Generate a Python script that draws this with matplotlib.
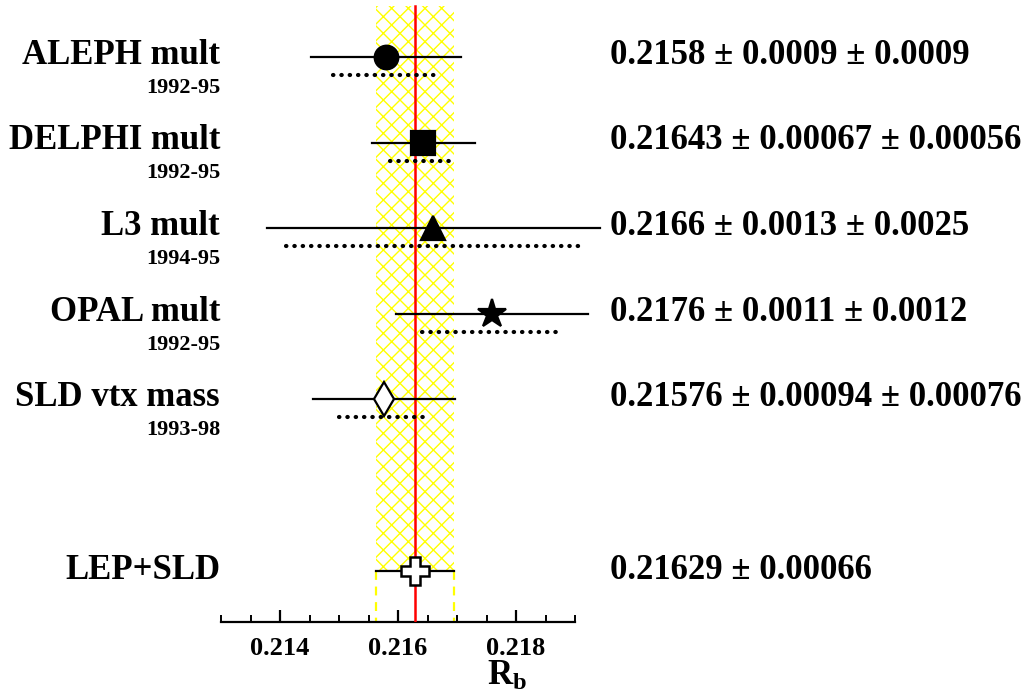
import matplotlib
matplotlib.use("Agg")
import matplotlib.pyplot as plt
import matplotlib.transforms as mtransforms
from matplotlib.ticker import MultipleLocator, FormatStrFormatter

plt.rcParams['font.family'] = ['Liberation Serif', 'DejaVu Serif']
plt.rcParams['font.weight'] = 'bold'
plt.rcParams['mathtext.fontset'] = 'custom'
plt.rcParams['mathtext.rm'] = 'Liberation Serif:bold'
plt.rcParams['mathtext.bf'] = 'Liberation Serif:bold'
plt.rcParams['mathtext.it'] = 'Liberation Serif:bold'
plt.rcParams['hatch.linewidth'] = 1.0

# measurements
names = ["ALEPH mult", "DELPHI mult", "L3 mult", "OPAL mult", "SLD vtx mass"]
years = ["1992-95", "1992-95", "1994-95", "1992-95", "1993-98"]
rb = [0.2158, 0.21643, 0.2166, 0.2176, 0.21576]
stat = [0.0009, 0.00067, 0.0013, 0.0011, 0.00094]
syst = [0.0009, 0.00056, 0.0025, 0.0012, 0.00076]
value_text = ["0.2158 ± 0.0009 ± 0.0009",
              "0.21643 ± 0.00067 ± 0.00056",
              "0.2166 ± 0.0013 ± 0.0025",
              "0.2176 ± 0.0011 ± 0.0012",
              "0.21576 ± 0.00094 ± 0.00076"]
markers = ["o", "s", "^", "*", "d"]
filled = [True, True, True, True, False]
msizes = [17, 17, 17, 21, 17]

# combined result
avg_name = "LEP+SLD"
avg_rb = 0.21629
avg_err = 0.00066
avg_text = "0.21629 ± 0.00066"

rows = list(range(len(names)))
avg_row = 6

fig = plt.figure(figsize=(10.29, 7.0), dpi=100)
ax = fig.add_axes([221 / 1029, 78 / 700, 354 / 1029, 622 / 700])
ax.set_xlim(0.213, 0.219)
ax.set_ylim(6.6, -0.665)

# yellow band and red average line
ax.fill_betweenx([-0.6, avg_row], avg_rb - avg_err, avg_rb + avg_err,
                 facecolor='none', edgecolor='#ffff00', hatch='xx', linewidth=0)
for xe in (avg_rb - avg_err, avg_rb + avg_err):
    ax.plot([xe, xe], [avg_row, 6.6], color='#ffff00', lw=1.6, ls=(0, (4, 3)))
ax.plot([avg_rb, avg_rb], [-0.6, 6.6], color='red', lw=1.8, zorder=3)

for i, r in enumerate(rows):
    tot = (stat[i] ** 2 + syst[i] ** 2) ** 0.5
    ax.plot([rb[i] - tot, rb[i] + tot], [r, r], color='black', lw=1.6, zorder=4,
            clip_on=False)
    ax.plot([rb[i] - syst[i], rb[i] + syst[i]], [r + 0.21, r + 0.21], color='black',
            lw=3.0, ls=(0, (0.1, 1.9)), dash_capstyle='round', zorder=4, clip_on=False)
    ax.plot(rb[i], r, marker=markers[i], ms=msizes[i], color='black',
            mfc='black' if filled[i] else 'white', mew=1.6, zorder=5)

ax.plot([avg_rb - avg_err, avg_rb + avg_err], [avg_row, avg_row], color='black', lw=1.6, zorder=4)
ax.plot(avg_rb, avg_row, marker='P', ms=20, color='black', mfc='white', mew=1.8, zorder=5)

# labels
tr = mtransforms.blended_transform_factory(fig.transFigure, ax.transData)
for i, r in enumerate(rows):
    ax.text(220 / 1029, r - 0.02, names[i], transform=tr, ha='right', va='center',
            fontsize=25, fontweight='bold')
    ax.text(220 / 1029, r + 0.36, years[i], transform=tr, ha='right', va='center',
            fontsize=16, fontweight='bold')
    ax.text(610 / 1029, r - 0.02, value_text[i], transform=tr, ha='left', va='center',
            fontsize=25, fontweight='bold')
ax.text(220 / 1029, avg_row, avg_name, transform=tr, ha='right', va='center',
        fontsize=25, fontweight='bold')
ax.text(610 / 1029, avg_row, avg_text, transform=tr, ha='left', va='center',
        fontsize=25, fontweight='bold')

# axis
for s in ('top', 'left', 'right'):
    ax.spines[s].set_visible(False)
ax.spines['bottom'].set_linewidth(1.6)
ax.set_yticks([])
ax.xaxis.set_major_locator(MultipleLocator(0.002))
ax.xaxis.set_minor_locator(MultipleLocator(0.0005))
ax.tick_params(axis='x', which='major', direction='in', length=9, width=1.6,
               labelsize=19, pad=11)
ax.tick_params(axis='x', which='minor', direction='in', length=5, width=1.4)
ax.xaxis.set_major_formatter(FormatStrFormatter('%.3f'))
for lab in ax.get_xticklabels():
    lab.set_fontweight('bold')
fig.text(487 / 1029, 15 / 700, r'$\mathbf{R}_\mathbf{b}$', ha='left', va='baseline',
         fontsize=25)

fig.savefig("out.png", dpi=100)
